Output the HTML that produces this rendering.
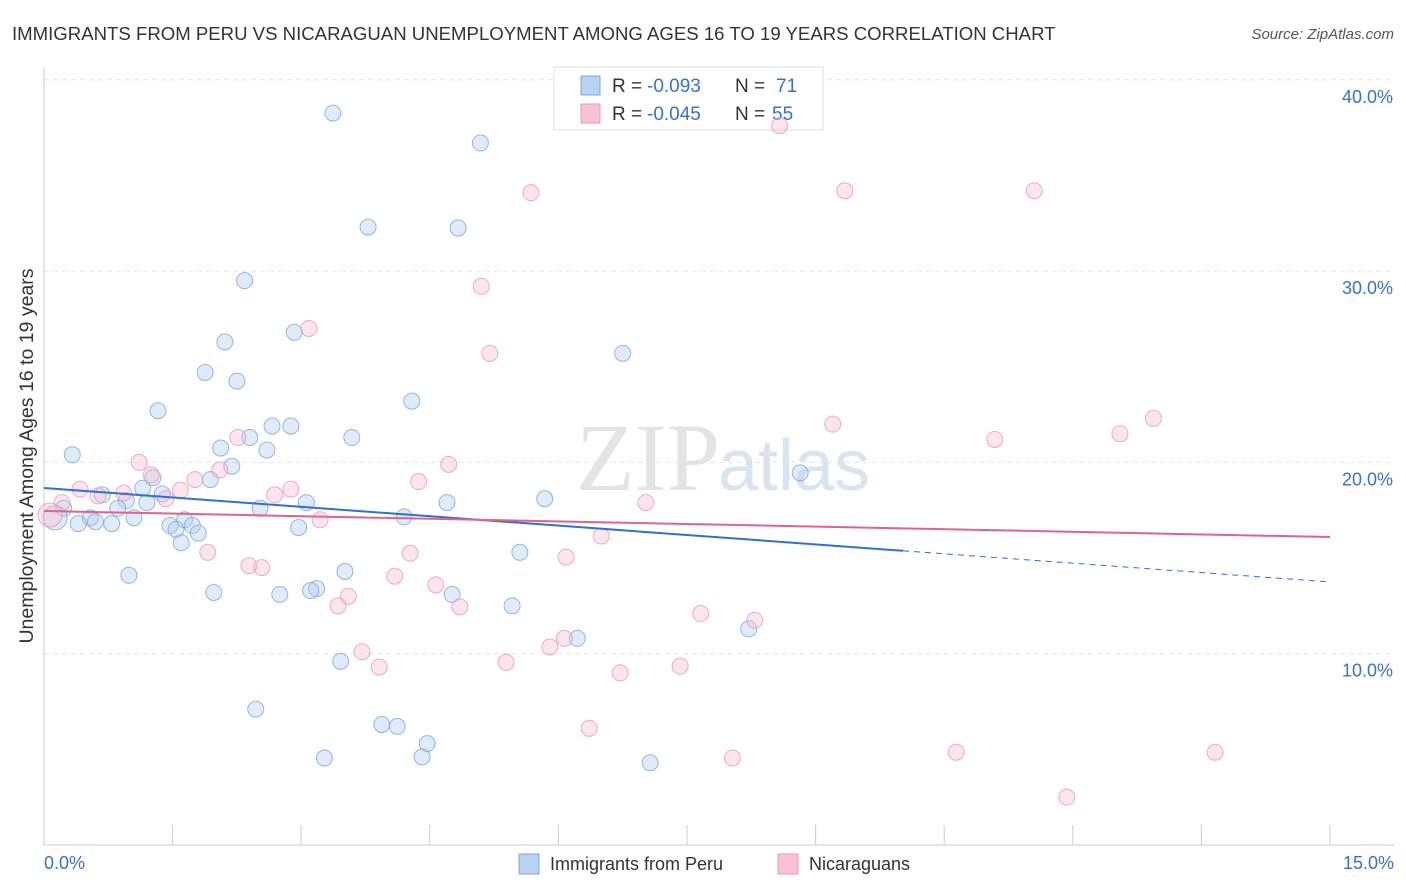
<!DOCTYPE html>
<html><head><meta charset="utf-8"><style>
body{margin:0;background:#fff;font-family:"Liberation Sans",sans-serif}
svg{display:block}
</style></head><body>
<svg id="c" width="1406" height="892" xmlns="http://www.w3.org/2000/svg">
<text x="12" y="40" font-size="18.6" fill="#333">IMMIGRANTS FROM PERU VS NICARAGUAN UNEMPLOYMENT AMONG AGES 16 TO 19 YEARS CORRELATION CHART</text>
<text x="1394" y="39" font-size="15" fill="#555" font-style="italic" text-anchor="end">Source: ZipAtlas.com</text>
<text x="720" y="490" font-size="96" fill="#e4e4e4" text-anchor="end" font-family="Liberation Serif">ZIP</text>
<text x="718" y="490" font-size="72" fill="#d8e4f2">atlas</text>
<g id="grid"></g>
<g>
<rect x="554" y="67" width="269" height="63" fill="#fff" stroke="#ddd"/>
<rect x="581" y="76" width="19" height="19" fill="#b8d2f2" stroke="#7aa8dc"/>
<rect x="581" y="104" width="19" height="19" fill="#f8c4d4" stroke="#e898b4"/>
<text x="612" y="92" font-size="19" fill="#333">R =</text>
<text x="647" y="92" font-size="19" fill="#3a70c8">-0.093</text>
<text x="735" y="92" font-size="19" fill="#333">N =</text>
<text x="776" y="92" font-size="19" fill="#3a70c8">71</text>
<text x="612" y="120" font-size="19" fill="#333">R =</text>
<text x="647" y="120" font-size="19" fill="#3a70c8">-0.045</text>
<text x="735" y="120" font-size="19" fill="#333">N =</text>
<text x="772" y="120" font-size="19" fill="#3a70c8">55</text>
</g>
<g id="pts"></g><g id="trend"></g>
<text x="33" y="456" font-size="19.5" fill="#333" text-anchor="middle" transform="rotate(-90 33 456)">Unemployment Among Ages 16 to 19 years</text>
<g>
<rect x="519" y="854" width="20" height="20" fill="#b8d2f2" stroke="#7aa8dc"/>
<text x="550" y="870" font-size="18" fill="#333">Immigrants from Peru</text>
<rect x="778" y="854" width="20" height="20" fill="#f8c4d4" stroke="#e898b4"/>
<text x="809" y="870" font-size="18" fill="#333">Nicaraguans</text>
</g>
<text x="44" y="869" font-size="18" fill="#3a70c8">0.0%</text>
<text x="1394" y="869" font-size="18" fill="#3a70c8" text-anchor="end">15.0%</text>
</svg>
<script>
const peruX=[3.37,5.09,3.78,4.83,2.34,2.92,2.11,6.75,1.88,2.25,4.29,1.33,2.66,2.88,3.59,2.40,2.06,2.60,0.33,2.19,8.82,1.27,1.94,1.15,1.38,0.68,0.96,1.20,5.84,3.06,4.70,0.86,0.23,2.52,0.13,0.54,1.05,4.20,1.64,0.40,0.60,0.79,1.47,1.73,1.54,2.97,1.80,1.60,5.55,3.51,0.99,3.18,3.11,1.98,2.75,4.76,5.46,6.22,8.22,3.46,2.47,3.94,4.12,4.47,3.27,4.41,7.07];
const peruY=[38.26,36.7,32.3,32.25,29.5,26.8,26.3,25.7,24.7,24.25,23.2,22.7,21.9,21.9,21.3,21.3,20.75,20.65,20.4,19.8,19.45,19.2,19.1,18.65,18.35,18.3,18.0,17.9,18.1,17.9,17.9,17.6,17.6,17.6,17.1,17.1,17.1,17.15,17.0,16.8,16.9,16.8,16.7,16.7,16.5,16.6,16.3,15.8,15.3,14.3,14.1,13.4,13.3,13.2,13.1,13.1,12.5,10.8,11.3,9.6,7.1,6.3,6.2,5.3,4.55,4.6,4.3];
const nicX=[8.58,5.68,9.34,11.55,5.10,3.09,5.20,9.20,12.94,12.55,11.09,2.26,1.11,4.72,2.05,1.25,1.76,4.37,0.42,1.59,2.88,0.63,0.93,2.69,1.42,7.02,0.21,0.07,3.22,6.50,1.91,4.27,6.09,2.39,2.54,4.09,4.57,3.55,3.43,4.85,7.66,8.29,6.07,5.90,3.71,5.39,7.42,3.91,6.72,6.36,8.03,10.64,13.66,11.93];
const nicY=[37.6,34.1,34.2,34.2,29.2,27.0,25.7,22.0,22.3,21.5,21.2,21.3,20.0,19.9,19.6,19.35,19.1,19.0,18.6,18.55,18.6,18.25,18.4,18.3,18.1,17.9,17.9,17.25,17.0,16.15,15.3,15.25,15.05,14.6,14.5,14.05,13.6,13.0,12.5,12.45,12.1,11.75,10.8,10.35,10.1,9.55,9.35,9.3,9.0,6.1,4.55,4.85,4.85,2.5];
const peruTrend=[18.66,13.75];
const nicTrend=[17.46,16.1];
const yTicks=[10,20,30,40];
const xTicks=[0,1.5,3,4.5,6,7.5,9,10.5,12,13.5,15];
const X=v=>44+v/15*1286, Y=v=>845-v*19.13;
const NS="http://www.w3.org/2000/svg";
function mk(p,t,a){const e=document.createElementNS(NS,t);for(const k in a)e.setAttribute(k,a[k]);p.appendChild(e);return e;}
const grid=document.getElementById('grid'),pts=document.getElementById('pts'),tr=document.getElementById('trend');
yTicks.forEach(t=>{
 const l=mk(grid,'line',{x1:44,x2:1394,y1:Y(t),y2:Y(t),stroke:'#e2e2e2','stroke-dasharray':'5,4'});
 
 
 const tx=mk(grid,'text',{x:1393,y:Y(t)+23,'font-size':18,fill:'#3a70c8','text-anchor':'end'});tx.textContent=t.toFixed(1)+'%';
 
 
});
const ax=mk(grid,'line',{x1:44,x2:1394,y1:845,y2:845,stroke:'#ccc'});


const ay=mk(grid,'line',{x1:44,x2:44,y1:68,y2:845,stroke:'#ccc'});


xTicks.forEach(t=>{const l=mk(grid,'line',{x1:X(t),x2:X(t),y1:825,y2:845,stroke:'#ccc'});
 
 });
function dots(xs,ys,fill,stroke,name){xs.forEach((x,i)=>{
 const big=(x<0.15);
 const c=mk(pts,'circle',{cx:X(x),cy:Y(ys[i]),r:big?12:8,fill:fill,'fill-opacity':0.4,stroke:stroke,'stroke-opacity':0.8,'stroke-width':1});
 
 
});}
dots(peruX,peruY,'#b0ccf0','#7aa6dc','peru-point');
dots(nicX,nicY,'#f7bfd1','#e898b6','nicaraguan-point');
const bx=10.02, by=peruTrend[0]+(peruTrend[1]-peruTrend[0])*bx/15;
const l1=mk(tr,'line',{x1:X(0),y1:Y(peruTrend[0]),x2:X(bx),y2:Y(by),stroke:'#2f6fd6','stroke-width':2});


const l2=mk(tr,'line',{x1:X(bx),y1:Y(by),x2:X(15),y2:Y(peruTrend[1]),stroke:'#2f6fd6','stroke-width':1,'stroke-dasharray':'6,5'});


const l3=mk(tr,'line',{x1:X(0),y1:Y(nicTrend[0]),x2:X(15),y2:Y(nicTrend[1]),stroke:'#e0628e','stroke-width':2});


</script>
</body></html>
